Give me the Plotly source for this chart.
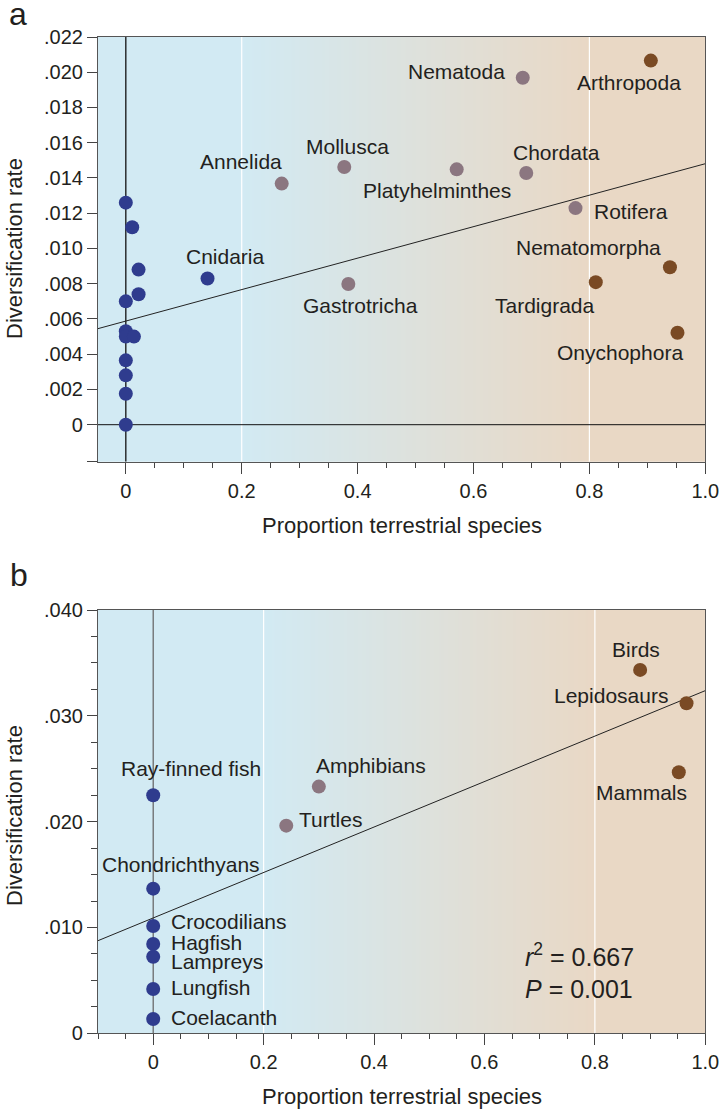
import plotly.graph_objects as go

# panel a: animal phyla
a_names = ["", "", "", "Cnidaria", "", "", "", "", "", "", "", "", "",
           "Annelida", "Mollusca", "Gastrotricha", "Platyhelminthes", "Nematoda", "Chordata", "Rotifera",
           "Arthropoda", "Nematomorpha", "Tardigrada", "Onychophora"]
a_terr = [0, 0.011, 0.022, 0.141, 0, 0.022, 0, 0, 0.014, 0, 0, 0, 0,
          0.269, 0.377, 0.384, 0.571, 0.685, 0.691, 0.776,
          0.906, 0.939, 0.811, 0.952]
a_rate = [0.0126, 0.0112, 0.0088, 0.0083, 0.0070, 0.0074, 0.0053, 0.0050, 0.0050, 0.00365, 0.0028, 0.00176, 0.0,
          0.01368, 0.01462, 0.00798, 0.01449, 0.01969, 0.01428, 0.01229,
          0.02066, 0.00893, 0.00809, 0.00522]
a_group = ["aquatic"] * 13 + ["mixed"] * 7 + ["terrestrial"] * 4
a_fit = (0.00588, 0.00893)  # intercept, slope

# panel b: vertebrates
b_names = ["Ray-finned fish", "Chondrichthyans", "Crocodilians", "Hagfish", "Lampreys", "Lungfish", "Coelacanth",
           "Turtles", "Amphibians", "Birds", "Lepidosaurs", "Mammals"]
b_terr = [0, 0, 0, 0, 0, 0, 0, 0.241, 0.300, 0.882, 0.966, 0.952]
b_rate = [0.0225, 0.01367, 0.01014, 0.00844, 0.00724, 0.00418, 0.00135,
          0.01962, 0.02331, 0.03434, 0.03119, 0.02467]
b_group = ["aquatic"] * 7 + ["mixed"] * 2 + ["terrestrial"] * 3
b_fit = (0.0109, 0.02148)

a_yticks = [0.022, 0.020, 0.018, 0.016, 0.014, 0.012, 0.010, 0.008, 0.006, 0.004, 0.002, 0]
a_yticktext = [".022", ".020", ".018", ".016", ".014", ".012", ".010", ".008", ".006", ".004", ".002", "0"]
b_yticks = [0.04, 0.03, 0.02, 0.01, 0]
b_yticktext = [".040", ".030", ".020", ".010", "0"]
xticks = [0, 0.2, 0.4, 0.6, 0.8, 1.0]
xticktext = ["0", "0.2", "0.4", "0.6", "0.8", "1.0"]

COLORS = {"aquatic": "#2f3c8e", "mixed": "#8b7680", "terrestrial": "#7a4a24"}
FONT = "Liberation Sans, Arial, Helvetica, sans-serif"
TXT = "#231f20"
W, H = 721, 1109

# label offsets in px (dx, dy up, anchor)
LABEL_A = {
    "Cnidaria": (18, 22, "center"), "Annelida": (-41, 22, "center"), "Mollusca": (3, 21, "center"),
    "Gastrotricha": (12, -21, "center"), "Platyhelminthes": (-20, -21, "center"),
    "Nematoda": (-16, 6, "right"), "Chordata": (30, 21, "center"), "Rotifera": (16, -3, "left"),
    "Arthropoda": (-22, -22, "center"), "Nematomorpha": (-81, 20, "center"),
    "Tardigrada": (-51, -23, "center"), "Onychophora": (-57, -20, "center"),
}
LABEL_B = {
    "Ray-finned fish": (38, 27, "center"), "Chondrichthyans": (28, 24, "center"),
    "Crocodilians": (16, 4, "left"), "Hagfish": (16, 1, "left"), "Lampreys": (16, -5, "left"),
    "Lungfish": (16, 2, "left"), "Coelacanth": (16, 2, "left"), "Turtles": (11, 6, "left"),
    "Amphibians": (52, 21, "center"), "Birds": (-4, 20, "center"), "Lepidosaurs": (-17, 8, "right"),
    "Mammals": (-37, -20, "center"),
}

panels = [
    dict(x="x", y="y", names=a_names, xs=a_terr, ys=a_rate, grp=a_group, fit=a_fit,
         xr=[-0.048, 1.0], yr=[-0.0021, 0.022], labels=LABEL_A, zero_color="#111", hline=True),
    dict(x="x2", y="y2", names=b_names, xs=b_terr, ys=b_rate, grp=b_group, fit=b_fit,
         xr=[-0.1, 1.0], yr=[0, 0.040], labels=LABEL_B, zero_color="#6b6b6b", hline=False),
]

fig = go.Figure()
annotations = []
for p in panels:
    x0, x1 = p["xr"]
    y0, y1 = p["yr"]
    # gradient background: blue below 0.2, tan above 0.8
    fig.add_trace(go.Heatmap(x=[x0, 0.2, 0.8, x1], y=[y0, y1], z=[[0, 0, 1, 1], [0, 0, 1, 1]],
                             zsmooth="best", colorscale=[[0, "#d2eaf3"], [1, "#e9d8c5"]],
                             showscale=False, hoverinfo="skip", xaxis=p["x"], yaxis=p["y"]))
    for xv in (0.2, 0.8):
        fig.add_trace(go.Scatter(x=[xv, xv], y=[y0, y1], mode="lines", line=dict(color="white", width=1.2),
                                 hoverinfo="skip", xaxis=p["x"], yaxis=p["y"]))
    fig.add_trace(go.Scatter(x=[0, 0], y=[y0, y1], mode="lines", line=dict(color=p["zero_color"], width=1.3),
                             hoverinfo="skip", xaxis=p["x"], yaxis=p["y"]))
    if p["hline"]:
        fig.add_trace(go.Scatter(x=[x0, x1], y=[0, 0], mode="lines", line=dict(color="#111", width=1),
                                 hoverinfo="skip", xaxis=p["x"], yaxis=p["y"]))
    b0, b1 = p["fit"]
    fig.add_trace(go.Scatter(x=[x0, x1], y=[b0 + b1 * x0, b0 + b1 * x1], mode="lines",
                             line=dict(color="#222", width=1), hoverinfo="skip", xaxis=p["x"], yaxis=p["y"]))
    fig.add_trace(go.Scatter(x=p["xs"], y=p["ys"], mode="markers",
                             marker=dict(size=14, color=[COLORS[g] for g in p["grp"]], line=dict(width=0)),
                             xaxis=p["x"], yaxis=p["y"]))
    for name, xv, yv in zip(p["names"], p["xs"], p["ys"]):
        if not name:
            continue
        dx, dy, anc = p["labels"][name]
        annotations.append(dict(x=xv, y=yv, xref=p["x"], yref=p["y"], text=name, showarrow=False,
                                xanchor=anc, yanchor="middle", xshift=dx, yshift=dy,
                                font=dict(size=21, color=TXT, family=FONT)))


def px_x(v):
    return v / W


def px_y(v):
    return 1 - v / H


# panel letters, axis titles, stats
for txt, xp, yp, size in [("a", 18, 14, 32), ("b", 19, 575, 32)]:
    annotations.append(dict(x=px_x(xp), y=px_y(yp), xref="paper", yref="paper", text=txt, showarrow=False,
                            xanchor="center", yanchor="middle", font=dict(size=size, color=TXT, family=FONT)))
for yp in (249, 816):
    annotations.append(dict(x=px_x(14), y=px_y(yp), xref="paper", yref="paper", text="Diversification rate",
                            textangle=-90, showarrow=False, xanchor="center", yanchor="middle",
                            font=dict(size=22, color=TXT, family=FONT)))
for yp in (525, 1096):
    annotations.append(dict(x=px_x(401.7), y=px_y(yp), xref="paper", yref="paper",
                            text="Proportion terrestrial species", showarrow=False, xanchor="center",
                            yanchor="middle", font=dict(size=22, color=TXT, family=FONT)))
for txt, yp in [("<i>r</i><sup>2</sup> = 0.667", 955), ("<i>P</i> = 0.001", 989)]:
    annotations.append(dict(x=px_x(523), y=px_y(yp), xref="paper", yref="paper", text=txt, showarrow=False,
                            xanchor="left", yanchor="middle", font=dict(size=25, color=TXT, family=FONT)))

axis_common = dict(showgrid=False, zeroline=False, showline=True, mirror=True, linecolor="#555",
                   linewidth=1.2, ticks="outside", tickcolor="#444", tickwidth=1.2, automargin=False,
                   tickfont=dict(size=20, color=TXT, family=FONT))

fig.update_layout(
    width=W, height=H, margin=dict(l=0, r=0, t=0, b=0),
    paper_bgcolor="white", plot_bgcolor="white", showlegend=False,
    annotations=annotations,
    xaxis=dict(axis_common, domain=[98 / W, 705.3 / W], range=[-0.048, 1.0], anchor="y",
               tickmode="array", tickvals=xticks, ticktext=xticktext, ticklen=11,
               minor=dict(ticks="outside", ticklen=5, tick0=0, dtick=0.05, tickcolor="#444", tickwidth=1.2)),
    yaxis=dict(axis_common, domain=[1 - 461.7 / H, 1 - 37 / H], range=[-0.0021, 0.022], anchor="x",
               tickmode="array", tickvals=a_yticks, ticktext=a_yticktext, ticklen=10,
               minor=dict(ticks="outside", ticklen=10, tickmode="array", tickvals=[-0.0021],
                          tickcolor="#444", tickwidth=1.2)),
    xaxis2=dict(axis_common, domain=[98 / W, 705.3 / W], range=[-0.1, 1.0], anchor="y2",
                tickmode="array", tickvals=xticks, ticktext=xticktext, ticklen=11,
                minor=dict(ticks="outside", ticklen=5, tick0=0, dtick=0.05, tickcolor="#444", tickwidth=1.2)),
    yaxis2=dict(axis_common, domain=[1 - 1033.3 / H, 1 - 610 / H], range=[0, 0.040], anchor="x2",
                tickmode="array", tickvals=b_yticks, ticktext=b_yticktext, ticklen=10,
                minor=dict(ticks="outside", ticklen=6, tick0=0, dtick=0.0025, tickcolor="#444", tickwidth=1.2)),
)

fig.write_html("out.html", config={"displayModeBar": False},
               post_script="document.body.style.margin='0';")
